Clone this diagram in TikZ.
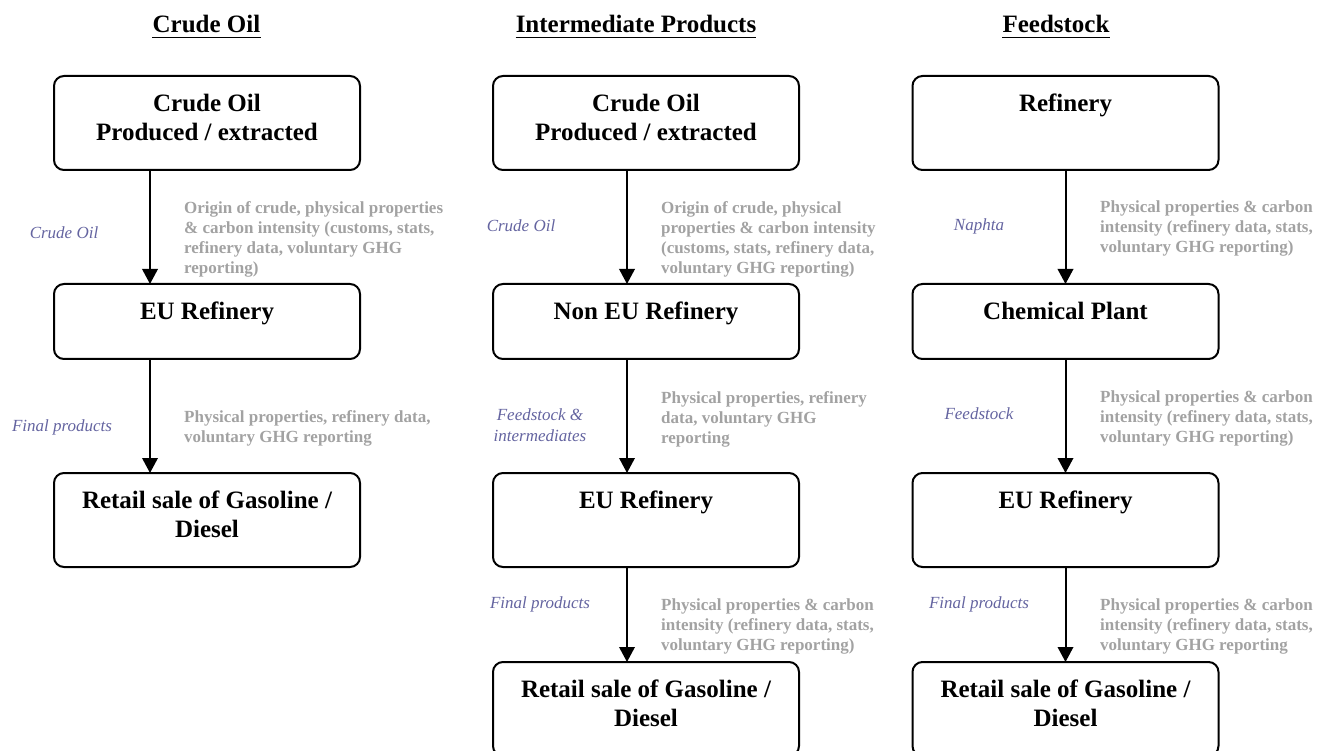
\documentclass[tikz,border=0pt]{standalone}
\usepackage{fontspec}
\setmainfont{Liberation Serif}
\usetikzlibrary{arrows.meta}
\definecolor{infogray}{RGB}{162,162,162}
\definecolor{flowblue}{RGB}{100,100,160}
\begin{document}
\begin{tikzpicture}[x=1pt,y=-1pt,
  stage/.style={draw, line width=2pt, rounded corners=10pt, minimum width=306pt,
    inner sep=0pt, outer sep=0pt},
  twoline/.style={stage, minimum height=94pt},
  oneline/.style={stage, minimum height=75pt},
  stagetext/.style={anchor=north, inner sep=0pt, align=center,
    font=\fontsize{25}{29}\selectfont\bfseries},
  heading/.style={anchor=base, inner sep=0pt,
    font=\fontsize{25}{29}\selectfont\bfseries},
  info/.style={anchor=north west, inner sep=0pt, align=left, text=infogray,
    font=\fontsize{17}{20}\selectfont\bfseries},
  flow/.style={inner sep=0pt, align=center, text=flowblue,
    font=\fontsize{17}{21}\selectfont\itshape},
  arr/.style={line width=2pt, -{Triangle[width=15.5pt,length=15pt]}},
  uline/.style={line width=1.8pt},
]
\clip (0,0) rectangle (1318,751);

% ---------- headings ----------
\node[heading] (h1) at (206.5,33) {Crude Oil};
\node[heading] (h2) at (636,33) {Intermediate Products};
\node[heading] (h3) at (1056,33) {Feedstock};
\foreach \h in {h1,h2,h3}
  \draw[uline] ([yshift=-4.5pt]\h.base west) -- ([yshift=-4.5pt]\h.base east);

% ---------- column 1: crude oil ----------
\node[twoline] (a1) at (207,123) {};
\node[stagetext] (a1t) at ([yshift=-17.5pt]a1.north) {Crude Oil\\Produced / extracted};
\node[oneline] (a2) at (207,321.5) {};
\node[stagetext] (a2t) at ([yshift=-17.5pt]a2.north) {EU Refinery};
\node[twoline] (a3) at (207,520) {};
\node[stagetext] (a3t) at ([yshift=-17.5pt]a3.north) {Retail sale of Gasoline /\\Diesel};

\draw[arr] ([xshift=-57pt]a1.south) -- ([xshift=-57pt]a2.north);
\draw[arr] ([xshift=-57pt]a2.south) -- ([xshift=-57pt]a3.north);

\node[flow] (a1f) at (64,233) {Crude Oil};
\node[info] (a1i) at (184,201) {Origin of crude, physical properties\\
  \& carbon intensity (customs, stats,\\refinery data, voluntary GHG\\reporting)};
\node[flow] (a2f) at (62,427) {Final products};
\node[info] (a2i) at (184,410) {Physical properties, refinery data,\\voluntary GHG reporting};

% ---------- column 2: intermediate products ----------
\node[twoline] (b1) at (646,123) {};
\node[stagetext] (b1t) at ([yshift=-17.5pt]b1.north) {Crude Oil\\Produced / extracted};
\node[oneline] (b2) at (646,321.5) {};
\node[stagetext] (b2t) at ([yshift=-17.5pt]b2.north) {Non EU Refinery};
\node[twoline] (b3) at (646,520) {};
\node[stagetext] (b3t) at ([yshift=-17.5pt]b3.north) {EU Refinery};
\node[twoline] (b4) at (646,709) {};
\node[stagetext] (b4t) at ([yshift=-17.5pt]b4.north) {Retail sale of Gasoline /\\Diesel};

\draw[arr] ([xshift=-19pt]b1.south) -- ([xshift=-19pt]b2.north);
\draw[arr] ([xshift=-19pt]b2.south) -- ([xshift=-19pt]b3.north);
\draw[arr] ([xshift=-19pt]b3.south) -- ([xshift=-19pt]b4.north);

\node[flow] (b1f) at (521,226) {Crude Oil};
\node[info] (b1i) at (661,201) {Origin of crude, physical\\properties \& carbon intensity\\
  (customs, stats, refinery data,\\voluntary GHG reporting)};
\node[flow] (b2f) at (540,425) {Feedstock \&\\intermediates};
\node[info] (b2i) at (661,391) {Physical properties, refinery\\data, voluntary GHG\\reporting};
\node[flow] (b3f) at (540,604) {Final products};
\node[info] (b3i) at (661,599) {Physical properties \& carbon\\intensity (refinery data, stats,\\
  voluntary GHG reporting)};

% ---------- column 3: feedstock ----------
\node[twoline] (c1) at (1065.5,123) {};
\node[stagetext] (c1t) at ([yshift=-17.5pt]c1.north) {Refinery};
\node[oneline] (c2) at (1065.5,321.5) {};
\node[stagetext] (c2t) at ([yshift=-17.5pt]c2.north) {Chemical Plant};
\node[twoline] (c3) at (1065.5,520) {};
\node[stagetext] (c3t) at ([yshift=-17.5pt]c3.north) {EU Refinery};
\node[twoline] (c4) at (1065.5,709) {};
\node[stagetext] (c4t) at ([yshift=-17.5pt]c4.north) {Retail sale of Gasoline /\\Diesel};

\draw[arr] (c1.south) -- (c2.north);
\draw[arr] (c2.south) -- (c3.north);
\draw[arr] (c3.south) -- (c4.north);

\node[flow] (c1f) at (979,226) {Naphta};
\node[info] (c1i) at (1100,201) {Physical properties \& carbon\\intensity (refinery data, stats,\\
  voluntary GHG reporting)};
\node[flow] (c2f) at (979,414) {Feedstock};
\node[info] (c2i) at (1100,391) {Physical properties \& carbon\\intensity (refinery data, stats,\\
  voluntary GHG reporting)};
\node[flow] (c3f) at (979,604) {Final products};
\node[info] (c3i) at (1100,599) {Physical properties \& carbon\\intensity (refinery data, stats,\\
  voluntary GHG reporting};
\end{tikzpicture}
\end{document}
